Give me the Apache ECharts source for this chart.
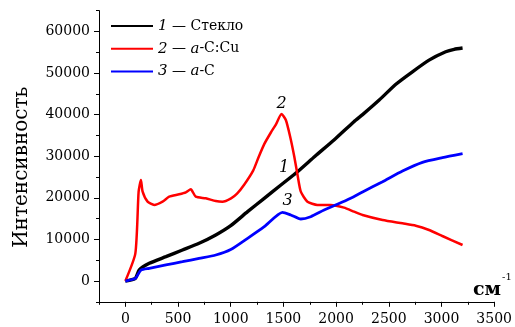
<!DOCTYPE html>
<html>
<head>
<meta charset="utf-8">
<script src="https://cdn.jsdelivr.net/npm/echarts@6/dist/echarts.min.js"></script>
<style>
html,body{margin:0;padding:0;background:#fff;}
#chart{width:515px;height:327px;}
</style>
</head>
<body>
<div id="chart"></div>
<script>
// Series 1 — Стекло (glass)
const glassX = [0, 95, 132, 227, 385, 542, 700, 858, 1000, 1160, 1318, 1476, 1634, 1800, 1980, 2169, 2251, 2409, 2567, 2724, 2882, 3040, 3120, 3200];
const glassY = [0, 640, 2640, 4250, 5850, 7450, 9060, 11060, 13300, 16670, 19880, 23080, 26280, 30000, 33900, 38300, 40000, 43500, 47300, 50300, 53100, 55100, 55700, 56000];
// Series 2 — a-C:Cu
const cuX = [0, 95, 126, 148, 164, 211, 274, 353, 416, 511, 574, 621, 668, 763, 858, 921, 1003, 1060, 1129, 1214, 1265, 1318, 1381, 1428, 1482, 1523, 1564, 1602, 1634, 1665, 1728, 1822, 1949, 2075, 2170, 2251, 2441, 2630, 2756, 2882, 3008, 3200];
const cuY = [0, 6650, 21470, 24280, 21470, 19070, 18270, 19070, 20270, 20840, 21320, 22040, 20270, 19880, 19230, 19070, 19880, 21000, 23200, 26600, 29800, 32900, 35700, 37600, 40150, 38700, 34690, 30050, 25480, 21470, 19070, 18270, 18270, 17630, 16670, 15870, 14660, 13860, 13300, 12260, 10820, 8650];
// Series 3 — a-C
const acX = [0, 95, 148, 227, 385, 542, 700, 858, 1000, 1160, 1318, 1491, 1570, 1665, 1759, 1886, 2012, 2138, 2251, 2441, 2630, 2819, 3008, 3200];
const acY = [0, 640, 2640, 3050, 3850, 4640, 5450, 6250, 7550, 10260, 13060, 16510, 15870, 14900, 15460, 17070, 18430, 19880, 21400, 23870, 26440, 28530, 29640, 30600];

const seriesNames = ['Стекло', 'a-C:Cu', 'a-C'];
const legendTexts = ['{i|1} — Стекло', '{i|2} — {i|a}-C:Cu', '{i|3} — {i|a}-C'];
const xMajorTicks = [0, 500, 1000, 1500, 2000, 2500, 3000, 3500];
const xMinorTicks = [-250, 250, 750, 1250, 1750, 2250, 2750, 3250];
const yMajorTicks = [0, 10000, 20000, 30000, 40000, 50000, 60000];
const yMinorTicks = [-5000, 5000, 15000, 25000, 35000, 45000, 55000, 65000];
// curve annotations: [label, x, y]
const curveLabels = [['1', 1507, 27090], ['2', 1482, 42550], ['3', 1539, 19200]];

const pairs = (xs, ys) => xs.map((x, i) => [x, ys[i]]);
const FONT = 'DejaVu Serif';
const chart = echarts.init(document.getElementById('chart'), null, {renderer: 'canvas'});

const axisCommon = {
  type: 'value',
  splitLine: {show: false}
};

chart.setOption({
  animation: false,
  backgroundColor: '#fff',
  grid: {left: 99, right: 20, top: 10.6, bottom: 25.2},
  legend: {
    orient: 'vertical',
    left: 106,
    top: 13,
    itemWidth: 42,
    itemHeight: 2,
    itemGap: 6.8,
    icon: 'rect',
    data: seriesNames,
    formatter: name => legendTexts[seriesNames.indexOf(name)],
    textStyle: {
      fontFamily: FONT, fontSize: 14, color: '#000', lineHeight: 16,
      rich: {i: {fontFamily: FONT, fontStyle: 'italic', fontSize: 15, color: '#000', lineHeight: 16}}
    }
  },
  xAxis: [
    Object.assign({}, axisCommon, {
      min: -250, max: 3500,
      axisLine: {show: true, onZero: false, lineStyle: {color: '#000', width: 1}},
      axisTick: {show: true, customValues: xMajorTicks, length: 5, inside: false, lineStyle: {color: '#000'}},
      axisLabel: {customValues: xMajorTicks, margin: 11, fontFamily: FONT, fontSize: 14, color: '#000', formatter: v => String(v)}
    }),
    Object.assign({}, axisCommon, {
      min: -250, max: 3500, position: 'bottom',
      axisLine: {show: false, onZero: false},
      axisTick: {show: true, customValues: xMinorTicks, length: 3, lineStyle: {color: '#000'}},
      axisLabel: {show: false}
    })
  ],
  yAxis: [
    Object.assign({}, axisCommon, {
      min: -5000, max: 65000,
      name: 'Интенсивность',
      nameLocation: 'middle',
      nameGap: 67,
      nameTextStyle: {fontFamily: FONT, fontSize: 20, color: '#000', padding: [0, 22, 0, 0]},
      axisLine: {show: true, onZero: false, lineStyle: {color: '#000', width: 1}},
      axisTick: {show: true, customValues: yMajorTicks, length: 5, lineStyle: {color: '#000'}},
      axisLabel: {customValues: yMajorTicks, margin: 9, fontFamily: FONT, fontSize: 14, color: '#000', formatter: v => String(v)}
    }),
    Object.assign({}, axisCommon, {
      min: -5000, max: 65000, position: 'left',
      axisLine: {show: false, onZero: false},
      axisTick: {show: true, customValues: yMinorTicks, length: 3, lineStyle: {color: '#000'}},
      axisLabel: {show: false}
    })
  ],
  graphic: [
    {type: 'text', left: 473, top: 281, style: {text: 'см', font: 'bold 19px "DejaVu Serif"', fill: '#000'}},
    {type: 'text', left: 502, top: 272, style: {text: '-1', font: '10px "DejaVu Serif"', fill: '#000'}}
  ],
  series: [
    {
      name: seriesNames[0], type: 'line', data: pairs(glassX, glassY),
      showSymbol: false, symbol: 'none', smooth: 0.2,
      lineStyle: {color: '#000', width: 3.4}, itemStyle: {color: '#000'},
      markPoint: {
        symbol: 'circle', symbolSize: 0,
        label: {show: true, position: 'inside', fontFamily: FONT, fontStyle: 'italic', fontSize: 16, color: '#000', formatter: p => p.name},
        data: curveLabels.map(c => ({name: c[0], coord: [c[1], c[2]]}))
      }
    },
    {
      name: seriesNames[1], type: 'line', data: pairs(cuX, cuY),
      showSymbol: false, symbol: 'none', smooth: 0.2,
      lineStyle: {color: '#ff0000', width: 2.5}, itemStyle: {color: '#ff0000'}
    },
    {
      name: seriesNames[2], type: 'line', data: pairs(acX, acY),
      showSymbol: false, symbol: 'none', smooth: 0.2,
      lineStyle: {color: '#0000ff', width: 2.8}, itemStyle: {color: '#0000ff'}
    }
  ]
});
</script>
</body>
</html>
